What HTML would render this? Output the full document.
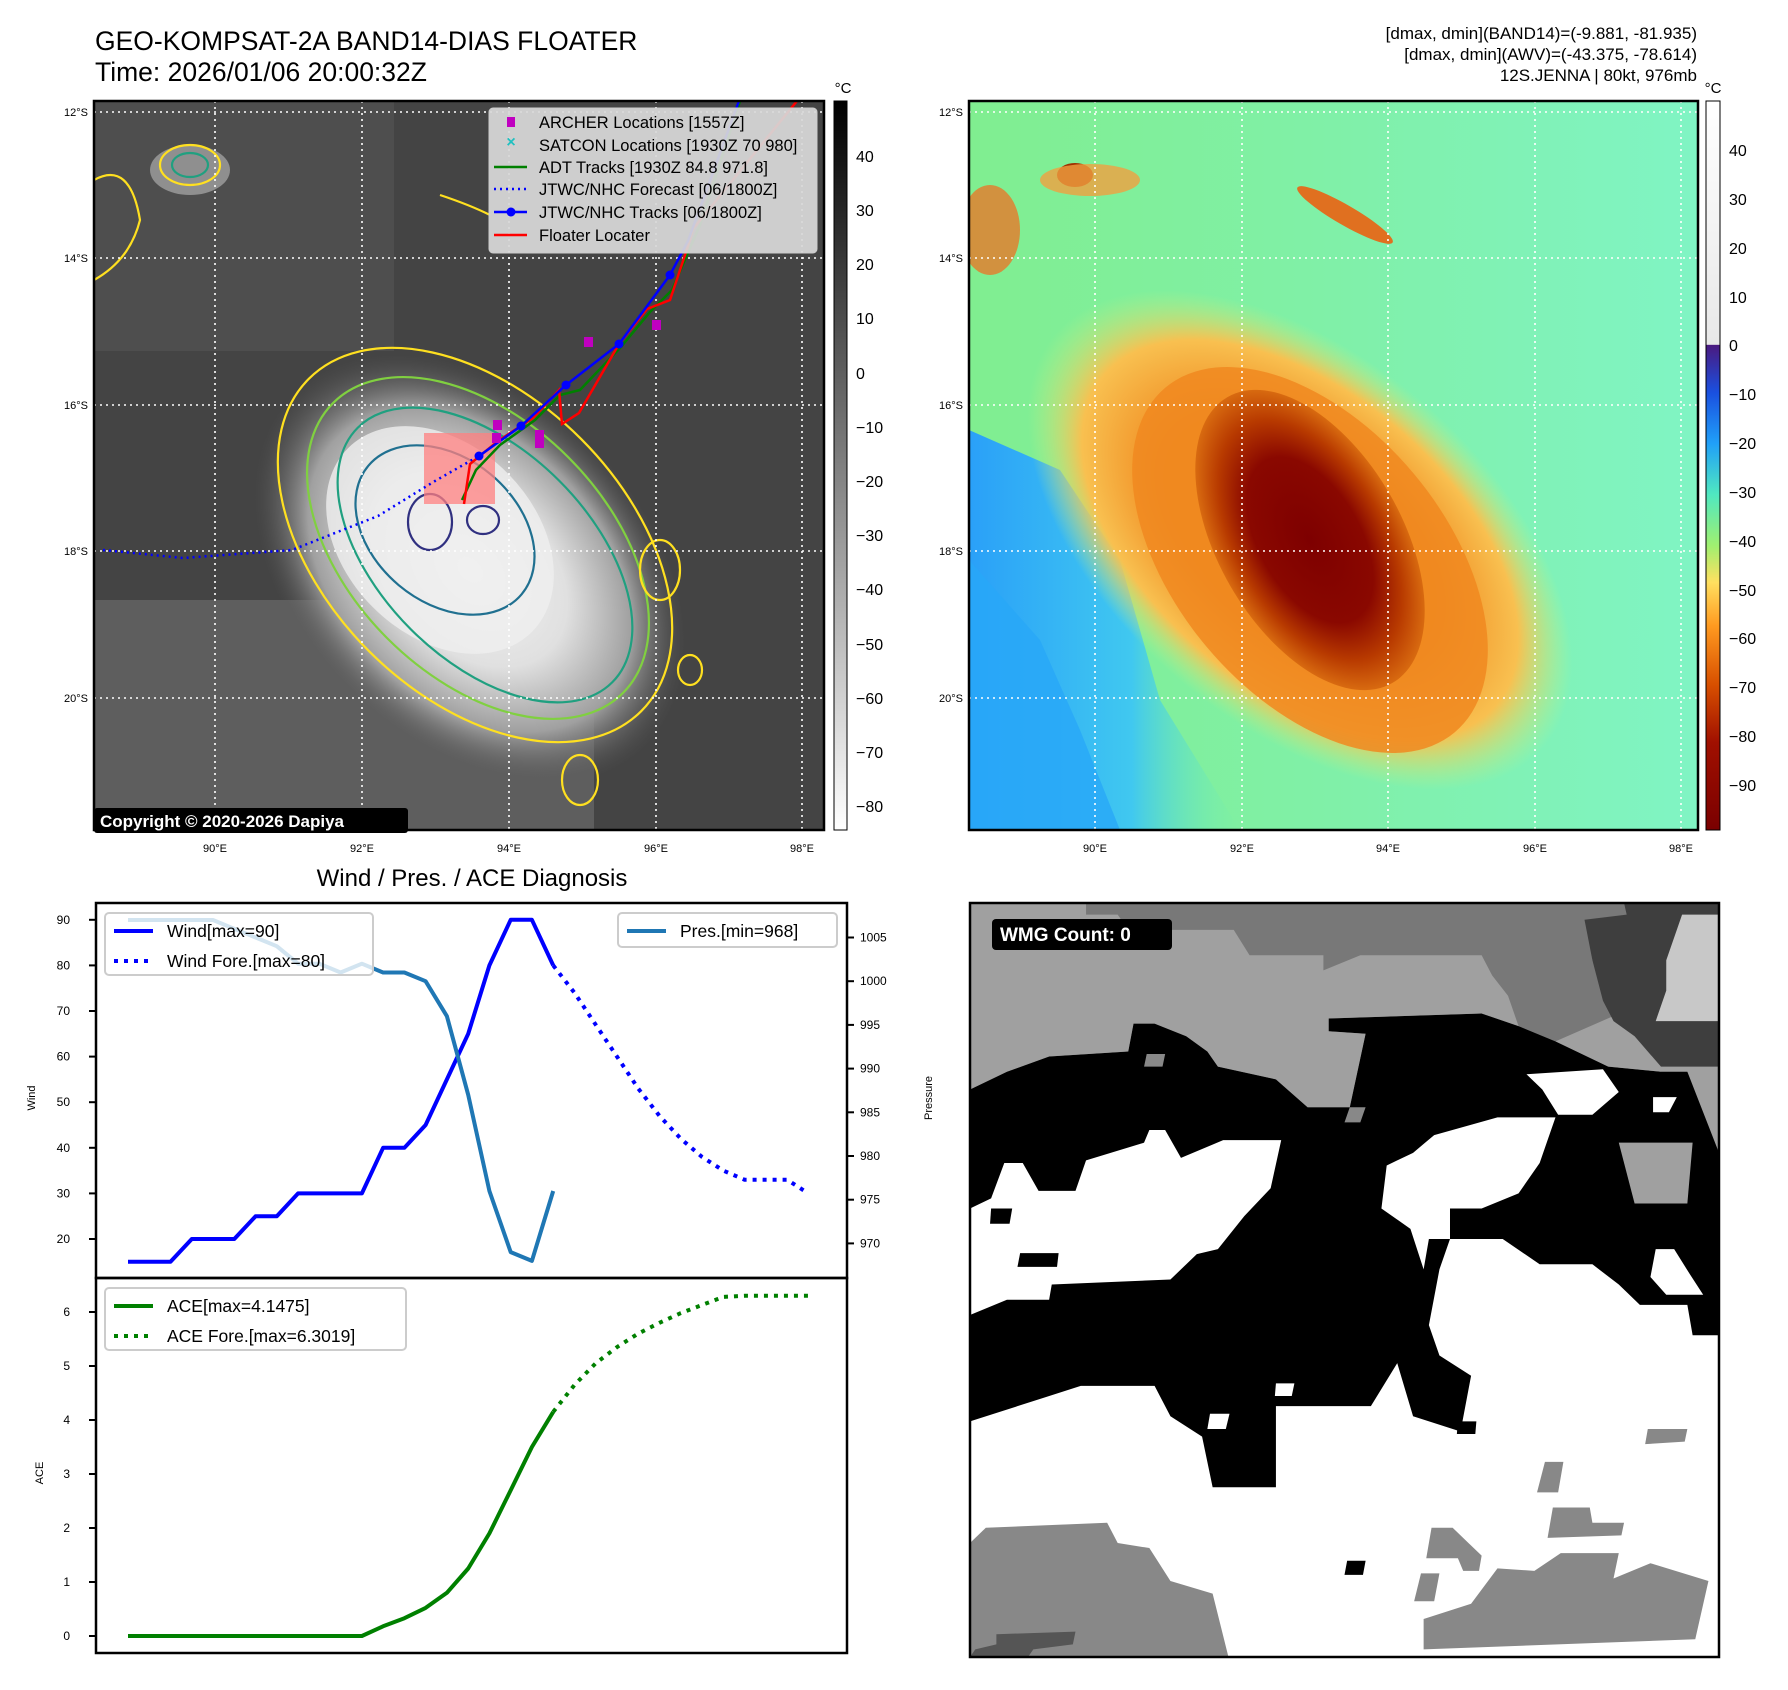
<!DOCTYPE html>
<html><head><meta charset="utf-8"><style>
html,body{margin:0;padding:0;background:#fff;}
svg{display:block;font-family:"Liberation Sans","DejaVu Sans",sans-serif;}
</style></head><body>
<svg id="root" width="1788" height="1690" viewBox="0 0 1788 1690" xmlns="http://www.w3.org/2000/svg">
<defs>
  <radialGradient id="cloud" cx="0.5" cy="0.5" r="0.5">
    <stop offset="0" stop-color="#f4f4f4"/>
    <stop offset="0.45" stop-color="#e0e0e0"/>
    <stop offset="0.75" stop-color="#a0a0a0"/>
    <stop offset="1" stop-color="#555" stop-opacity="0"/>
  </radialGradient>
  <radialGradient id="core" cx="0.5" cy="0.5" r="0.5">
    <stop offset="0" stop-color="#7e0000"/>
    <stop offset="0.55" stop-color="#8a0800"/>
    <stop offset="0.8" stop-color="#b83a00"/>
    <stop offset="1" stop-color="#d86a10"/>
  </radialGradient>
  <radialGradient id="ring" cx="0.5" cy="0.5" r="0.5">
    <stop offset="0.5" stop-color="#f08a20"/>
    <stop offset="0.8" stop-color="#f8c050"/>
    <stop offset="1" stop-color="#c8f080" stop-opacity="0"/>
  </radialGradient>
  <linearGradient id="bg2" x1="0" y1="0" x2="1" y2="0">
    <stop offset="0" stop-color="#80ee90"/>
    <stop offset="0.5" stop-color="#80f0a8"/>
    <stop offset="1" stop-color="#80f4c4"/>
  </linearGradient>
  <linearGradient id="bluezone" x1="0" y1="0" x2="1" y2="0">
    <stop offset="0" stop-color="#2aa0f8"/>
    <stop offset="0.6" stop-color="#40c8f0"/>
    <stop offset="1" stop-color="#70f0b0" stop-opacity="0"/>
  </linearGradient>
  <linearGradient id="cb1" x1="0" y1="0" x2="0" y2="1">
    <stop offset="0" stop-color="#000"/>
    <stop offset="1" stop-color="#fff"/>
  </linearGradient>
  <linearGradient id="cb2" x1="0" y1="0" x2="0" y2="1">
    <stop offset="0" stop-color="#ffffff"/>
    <stop offset="0.334" stop-color="#e8e8e8"/>
    <stop offset="0.335" stop-color="#4a1a80"/>
    <stop offset="0.40" stop-color="#1a50e0"/>
    <stop offset="0.47" stop-color="#20a0f8"/>
    <stop offset="0.54" stop-color="#50e8c0"/>
    <stop offset="0.61" stop-color="#a0f070"/>
    <stop offset="0.66" stop-color="#ffe060"/>
    <stop offset="0.72" stop-color="#ff9a20"/>
    <stop offset="0.80" stop-color="#d85000"/>
    <stop offset="0.88" stop-color="#a01000"/>
    <stop offset="1" stop-color="#7a0000"/>
  </linearGradient>
  <clipPath id="clip1"><rect x="94" y="101" width="730" height="729"/></clipPath>
  <clipPath id="clip2"><rect x="969" y="101" width="729" height="729"/></clipPath>
</defs>

<!-- Titles -->
<text x="95" y="50" font-size="26.5" fill="#000">GEO-KOMPSAT-2A BAND14-DIAS FLOATER</text>
<text x="95" y="81" font-size="26.5" fill="#000">Time: 2026/01/06 20:00:32Z</text>
<text x="1697" y="39" font-size="17" text-anchor="end">[dmax, dmin](BAND14)=(-9.881, -81.935)</text>
<text x="1697" y="60" font-size="17" text-anchor="end">[dmax, dmin](AWV)=(-43.375, -78.614)</text>
<text x="1697" y="81" font-size="17" text-anchor="end">12S.JENNA | 80kt, 976mb</text>

<!-- MAP 1 -->
<g clip-path="url(#clip1)">
  <rect x="94" y="101" width="730" height="729" fill="#444"/>
  <rect x="94" y="101" width="300" height="250" fill="#555" opacity="0.6"/>
  <rect x="94" y="600" width="500" height="230" fill="#6a6a6a" opacity="0.7"/>
  <ellipse cx="470" cy="570" rx="250" ry="175" transform="rotate(45 470 570)" fill="url(#cloud)"/>
  <ellipse cx="440" cy="540" rx="130" ry="95" transform="rotate(45 440 540)" fill="#efefef" opacity="0.8"/>
  <ellipse cx="190" cy="170" rx="40" ry="25" fill="#bbb" opacity="0.6"/>
  <g fill="none" stroke-width="2.2">
    <ellipse cx="475" cy="545" rx="235" ry="150" transform="rotate(45 475 545)" stroke="#ffe020"/>
    <ellipse cx="478" cy="548" rx="205" ry="128" transform="rotate(45 478 548)" stroke="#80d040"/>
    <ellipse cx="485" cy="555" rx="180" ry="105" transform="rotate(45 485 555)" stroke="#20a080"/>
    <ellipse cx="445" cy="530" rx="100" ry="72" transform="rotate(40 445 530)" stroke="#207090"/>
    <ellipse cx="430" cy="522" rx="22" ry="28" stroke="#303080"/>
    <ellipse cx="483" cy="520" rx="16" ry="14" stroke="#303080"/>
    <ellipse cx="190" cy="165" rx="30" ry="20" stroke="#ffe020"/>
    <ellipse cx="190" cy="165" rx="18" ry="12" stroke="#20a080"/>
    <path d="M94 180 Q130 160 140 220 Q130 260 94 280" stroke="#ffe020"/>
    <path d="M440 195 Q470 205 490 215" stroke="#ffe020"/>
    <ellipse cx="660" cy="570" rx="20" ry="30" stroke="#ffe020"/>
    <ellipse cx="690" cy="670" rx="12" ry="15" stroke="#ffe020"/>
    <ellipse cx="580" cy="780" rx="18" ry="25" stroke="#ffe020"/>
  </g>
  <g stroke="#fff" stroke-width="1.6" stroke-dasharray="2 4">
    <line x1="94" y1="112" x2="824" y2="112"/><line x1="94" y1="258" x2="824" y2="258"/>
    <line x1="94" y1="405" x2="824" y2="405"/><line x1="94" y1="551" x2="824" y2="551"/>
    <line x1="94" y1="698" x2="824" y2="698"/>
    <line x1="215" y1="101" x2="215" y2="830"/><line x1="362" y1="101" x2="362" y2="830"/>
    <line x1="509" y1="101" x2="509" y2="830"/><line x1="656" y1="101" x2="656" y2="830"/>
    <line x1="802" y1="101" x2="802" y2="830"/>
  </g>
  <rect x="424" y="433" width="71" height="71" fill="#ff8080" opacity="0.75"/>
  <polyline points="103,550 183,558 292,550 378,516 435,481 479,456" fill="none" stroke="#0000ff" stroke-width="2.5" stroke-dasharray="2 4"/>
  <polyline points="462,500 476,470 500,445 535,420 560,395 580,390 620,348 650,312 672,290 690,248 700,225 740,101" fill="none" stroke="#008000" stroke-width="2.5"/>
  <polyline points="464,504 470,464 498,441 533,418 559,390 562,424 579,413 619,344 647,309 670,300 688,246 693,229 797,101" fill="none" stroke="#ff0000" stroke-width="2.5"/>
  <polyline points="479,456 521,426 566,385 619,344 670,275 688,241 739,101" fill="none" stroke="#0000ff" stroke-width="2.5"/>
  <g fill="#0000ff"><circle cx="479" cy="456" r="4.5"/><circle cx="521" cy="426" r="4.5"/><circle cx="566" cy="385" r="4.5"/><circle cx="619" cy="344" r="4.5"/><circle cx="670" cy="275" r="4.5"/></g>
  <g fill="#c000c0">
    <rect x="493" y="420" width="9" height="10"/><rect x="492" y="433" width="9" height="10"/><rect x="535" y="430" width="9" height="18"/><rect x="584" y="337" width="9" height="10"/><rect x="652" y="320" width="9" height="10"/>
  </g>
</g>
<rect x="94" y="101" width="730" height="729" fill="none" stroke="#000" stroke-width="2.5"/>
<rect x="94" y="808" width="314" height="25" rx="3" fill="#000"/>
<text x="100" y="827" font-size="17" font-weight="bold" fill="#fff">Copyright © 2020-2026 Dapiya</text>

<!-- map1 legend -->
<g>
  <rect x="489" y="108" width="328" height="145" rx="4" fill="#d8d8d8" fill-opacity="0.93" stroke="#ccc"/>
  <rect x="507" y="117" width="8" height="10" fill="#c000c0"/>
  <text x="511" y="147" font-size="16" font-weight="bold" fill="#20c0c0" text-anchor="middle">×</text>
  <line x1="494" y1="167" x2="527" y2="167" stroke="#008000" stroke-width="2.5"/>
  <line x1="494" y1="189" x2="527" y2="189" stroke="#0000ff" stroke-width="2.5" stroke-dasharray="2 4"/>
  <line x1="494" y1="212" x2="527" y2="212" stroke="#0000ff" stroke-width="2.5"/><circle cx="511" cy="212" r="4.5" fill="#0000ff"/>
  <line x1="494" y1="235" x2="527" y2="235" stroke="#ff0000" stroke-width="2.5"/>
  <g font-size="16.5" fill="#000">
    <text x="539" y="128">ARCHER Locations [1557Z]</text>
    <text x="539" y="151">SATCON Locations [1930Z 70 980]</text>
    <text x="539" y="173">ADT Tracks [1930Z 84.8 971.8]</text>
    <text x="539" y="195">JTWC/NHC Forecast [06/1800Z]</text>
    <text x="539" y="218">JTWC/NHC Tracks [06/1800Z]</text>
    <text x="539" y="241">Floater Locater</text>
  </g>
</g>

<g font-size="11" fill="#000" text-anchor="end">
  <text x="88" y="116">12°S</text><text x="88" y="262">14°S</text><text x="88" y="409">16°S</text><text x="88" y="555">18°S</text><text x="88" y="702">20°S</text>
</g>
<g font-size="11" fill="#000" text-anchor="middle">
  <text x="215" y="852">90°E</text><text x="362" y="852">92°E</text><text x="509" y="852">94°E</text><text x="656" y="852">96°E</text><text x="802" y="852">98°E</text>
</g>
<g font-size="11" fill="#000" text-anchor="end">
  <text x="963" y="116">12°S</text><text x="963" y="262">14°S</text><text x="963" y="409">16°S</text><text x="963" y="555">18°S</text><text x="963" y="702">20°S</text>
</g>
<g font-size="11" fill="#000" text-anchor="middle">
  <text x="1095" y="852">90°E</text><text x="1242" y="852">92°E</text><text x="1388" y="852">94°E</text><text x="1535" y="852">96°E</text><text x="1681" y="852">98°E</text>
</g>

<!-- colorbar 1 -->
<rect x="834" y="101" width="13" height="729" fill="url(#cb1)" stroke="#000" stroke-width="1"/>
<text x="843" y="93" font-size="15" text-anchor="middle">°C</text>
<g font-size="16">
  <text x="856" y="162">40</text><text x="856" y="216">30</text><text x="856" y="270">20</text><text x="856" y="324">10</text><text x="856" y="379">0</text><text x="856" y="433">−10</text><text x="856" y="487">−20</text><text x="856" y="541">−30</text><text x="856" y="595">−40</text><text x="856" y="650">−50</text><text x="856" y="704">−60</text><text x="856" y="758">−70</text><text x="856" y="812">−80</text>
</g>

<!-- MAP 2 -->
<g clip-path="url(#clip2)">
  <rect x="969" y="101" width="729" height="729" fill="url(#bg2)"/>
  <polygon points="969,430 1060,470 1120,560 1160,700 1240,830 969,830" fill="url(#bluezone)"/>
  <polygon points="969,560 1040,640 1080,730 1120,830 969,830" fill="#28a8f8" opacity="0.8"/>
  <ellipse cx="1300" cy="540" rx="320" ry="185" transform="rotate(40 1300 540)" fill="url(#ring)"/>
  <ellipse cx="1310" cy="560" rx="225" ry="135" transform="rotate(50 1310 560)" fill="#f08820" opacity="0.85"/>
  <ellipse cx="1310" cy="540" rx="165" ry="92" transform="rotate(60 1310 540)" fill="url(#core)"/>
  <ellipse cx="1075" cy="175" rx="18" ry="12" fill="#a03000"/>
  <ellipse cx="1090" cy="180" rx="50" ry="16" fill="#f0a040" opacity="0.8"/>
  <ellipse cx="990" cy="230" rx="30" ry="45" fill="#e08030" opacity="0.85"/>
  <ellipse cx="1345" cy="215" rx="55" ry="10" transform="rotate(30 1345 215)" fill="#e07020"/>
  <g stroke="#fff" stroke-width="1.6" stroke-dasharray="2 4">
    <line x1="969" y1="112" x2="1698" y2="112"/><line x1="969" y1="258" x2="1698" y2="258"/>
    <line x1="969" y1="405" x2="1698" y2="405"/><line x1="969" y1="551" x2="1698" y2="551"/>
    <line x1="969" y1="698" x2="1698" y2="698"/>
    <line x1="1095" y1="101" x2="1095" y2="830"/><line x1="1242" y1="101" x2="1242" y2="830"/>
    <line x1="1388" y1="101" x2="1388" y2="830"/><line x1="1535" y1="101" x2="1535" y2="830"/>
    <line x1="1681" y1="101" x2="1681" y2="830"/>
  </g>
</g>
<rect x="969" y="101" width="729" height="729" fill="none" stroke="#000" stroke-width="2.5"/>
<rect x="1706" y="101" width="14" height="729" fill="url(#cb2)" stroke="#000" stroke-width="1"/>
<text x="1713" y="93" font-size="15" text-anchor="middle">°C</text>
<g font-size="16">
  <text x="1729" y="156">40</text><text x="1729" y="205">30</text><text x="1729" y="254">20</text><text x="1729" y="303">10</text><text x="1729" y="351">0</text><text x="1729" y="400">−10</text><text x="1729" y="449">−20</text><text x="1729" y="498">−30</text><text x="1729" y="547">−40</text><text x="1729" y="596">−50</text><text x="1729" y="644">−60</text><text x="1729" y="693">−70</text><text x="1729" y="742">−80</text><text x="1729" y="791">−90</text>
</g>

<!-- WMG panel -->
<svg x="970" y="903" width="749" height="754" viewBox="20 7 1420 1488" preserveAspectRatio="none">
  <rect x="20" y="7" width="1420" height="1488" fill="#fff"/>
  <polygon fill="#a0a0a0" points="20,7 1440,7 1440,600 1280,600 1250,480 1330,340 1230,330 1130,280 1060,250 990,225 700,235 700,260 770,265 740,410 660,410 600,355 490,330 470,300 430,270 370,245 330,245 320,300 170,310 90,340 20,375"/>
  <polygon fill="#787878" points="240,7 1270,7 1270,30 1190,40 1200,120 1240,230 1130,280 1060,250 1040,190 1010,150 990,110 760,110 690,140 690,110 550,110 520,60 320,60 300,30 240,30"/>
  <polygon fill="#3e3e3e" points="1260,7 1440,7 1440,330 1330,330 1280,270 1240,240 1220,200 1200,120 1185,40 1265,30"/>
  <polygon fill="#c8c8c8" points="1370,30 1440,30 1440,240 1320,240 1340,180 1340,120 1360,60"/>
  <polygon fill="#000" points="20,375 90,340 170,310 320,300 330,245 370,245 430,270 470,300 490,330 600,355 660,410 740,410 770,265 700,260 700,235 990,225 1060,250 1130,280 1230,330 1330,340 1380,340 1440,500 1440,860 1390,860 1380,800 1290,800 1250,760 1200,720 1100,720 1030,670 930,670 910,730 890,840 910,900 970,940 950,1050 860,1020 830,915 780,1000 660,1000 600,1000 600,1160 480,1160 460,1060 400,1020 370,960 230,960 110,1000 20,1030"/>
  <polygon fill="#fff" points="20,610 60,590 85,520 120,520 150,575 220,575 240,515 350,480 360,455 390,455 420,510 500,475 610,475 590,570 540,625 490,690 450,700 400,750 175,760 170,790 90,790 20,820"/>
  <polygon fill="#000" points="60,610 100,610 95,640 58,640"/>
  <polygon fill="#000" points="115,698 188,698 185,725 110,725"/>
  <polygon fill="#fff" points="800,610 810,525 860,500 900,465 1020,430 1130,430 1100,520 1060,580 990,610 930,610 930,670 890,670 880,730 855,650"/>
  <polygon fill="#fff" points="1075,345 1220,335 1250,380 1200,425 1135,425 1105,375"/>
  <polygon fill="#fff" points="1315,390 1360,390 1345,420 1315,420"/>
  <polygon fill="#fff" points="1320,690 1355,690 1385,740 1410,780 1340,780 1310,745"/>
  <polygon fill="#a0a0a0" points="1250,480 1390,480 1380,600 1280,600"/>
  <polygon fill="#fff" points="600,955 635,955 630,980 598,980"/>
  <polygon fill="#fff" points="475,1015 512,1015 505,1045 470,1045"/>
  <polygon fill="#888" points="20,1270 50,1240 280,1230 300,1270 360,1280 400,1345 480,1370 510,1495 20,1495"/>
  <polygon fill="#555" points="70,1450 220,1445 215,1470 140,1480 130,1495 20,1495 30,1480 70,1470"/>
  <polygon fill="#888" points="880,1420 970,1390 1020,1320 1090,1325 1140,1290 1250,1290 1240,1340 1310,1310 1420,1345 1395,1460 880,1480"/>
  <polygon fill="#888" points="1305,1045 1380,1045 1375,1070 1300,1075"/>
  <polygon fill="#888" points="1110,1110 1145,1110 1135,1170 1095,1170"/>
  <polygon fill="#888" points="1125,1200 1195,1200 1200,1230 1260,1230 1255,1255 1115,1260"/>
  <polygon fill="#888" points="895,1240 935,1240 965,1270 990,1295 985,1325 955,1325 945,1300 885,1300"/>
  <polygon fill="#888" points="875,1330 910,1330 900,1385 862,1385"/>
  <polygon fill="#000" points="735,1305 770,1305 765,1333 730,1333"/>
  <polygon fill="#000" points="945,1030 980,1030 978,1055 943,1055"/>
  <polygon fill="#888" points="355,305 390,305 385,330 350,330"/>
  <polygon fill="#888" points="740,410 770,410 760,440 730,440"/>
</svg>
<rect x="970" y="903" width="749" height="754" fill="none" stroke="#000" stroke-width="2.5"/>
<rect x="992" y="919" width="180" height="31" rx="4" fill="#000"/>
<text x="1000" y="941" font-size="19" font-weight="bold" fill="#fff">WMG Count: 0</text>

<!-- Chart -->
<text x="472" y="886" font-size="24" text-anchor="middle">Wind / Pres. / ACE Diagnosis</text>
<g id="chart"></g>
</svg>

<script>
const windObs=[15,15,15,20,20,20,25,25,30,30,30,30,40,40,45,55,65,80,90,90,80];
const windFcst=[80,74,67,60,53,47,42,38,35,33,33,33,30];
const presObs=[1007,1007,1007,1007,1007,1006,1005,1004,1002,1002,1001,1002,1001,1001,1000,996,987,976,969,968,976];
const aceObs=[0,0,0,0,0,0,0,0,0,0,0,0,0.18,0.33,0.52,0.8,1.25,1.9,2.7,3.5,4.15];
const aceFcst=[4.15,4.65,5.05,5.35,5.6,5.8,5.98,6.13,6.28,6.3,6.3,6.3,6.3];
const windTicks=[20,30,40,50,60,70,80,90];
const presTicks=[970,975,980,985,990,995,1000,1005];
const aceTicks=[0,1,2,3,4,5,6];

const NS='http://www.w3.org/2000/svg';
const chart=document.getElementById('chart');
function xOf(i){return 128+i*21.26;}
function yWind(v){return 1239-(v-20)*4.56;}
function yPres(p){return 937.5+(1005-p)*8.74;}
function yAce(v){return 1636-v*54;}
function mk(tag,attrs,parent){const e=document.createElementNS(NS,tag);for(const k in attrs)e.setAttribute(k,attrs[k]);(parent||chart).appendChild(e);return e;}
function pts(arr,off,yf){return arr.map((v,i)=>xOf(i+off).toFixed(1)+','+yf(v).toFixed(1)).join(' ');}

let f1=mk('rect',{x:96,y:903,width:751,height:375,fill:'none',stroke:'#000','stroke-width':2.5});


let f2=mk('rect',{x:96,y:1278,width:751,height:375,fill:'none',stroke:'#000','stroke-width':2.5});



function tickL(v,y,lab){mk('line',{x1:89,y1:y,x2:96,y2:y,stroke:'#000','stroke-width':2});const t=mk('text',{x:70,y:y+4,'font-size':12,'text-anchor':'end'});t.textContent=lab;

}
windTicks.forEach(v=>tickL(v,yWind(v),v));
aceTicks.forEach(v=>tickL(v,yAce(v),v));
presTicks.forEach(v=>{const y=yPres(v);mk('line',{x1:847,y1:y,x2:854,y2:y,stroke:'#000','stroke-width':2});const t=mk('text',{x:860,y:y+4,'font-size':12});t.textContent=v;

});

function axLabel(txt,x,y,name){const t=mk('text',{x:x,y:y,'font-size':11,'text-anchor':'middle',transform:'rotate(-90 '+x+' '+y+')'});t.textContent=txt;

}
axLabel('Wind',35,1098,'wind-axis-title');
axLabel('Pressure',932,1098,'pressure-axis-title');
axLabel('ACE',43,1473,'ace-axis-title');

let s;
s=mk('polyline',{points:pts(windObs,0,yWind),fill:'none',stroke:'#0000ff','stroke-width':4,'stroke-linejoin':'round'});


s=mk('polyline',{points:pts(windFcst,20,yWind),fill:'none',stroke:'#0000ff','stroke-width':4,'stroke-dasharray':'4 6'});


s=mk('polyline',{points:pts(presObs,0,yPres),fill:'none',stroke:'#1f77b4','stroke-width':4,'stroke-linejoin':'round'});


s=mk('polyline',{points:pts(aceObs,0,yAce),fill:'none',stroke:'#008000','stroke-width':4,'stroke-linejoin':'round'});


s=mk('polyline',{points:pts(aceFcst,20,yAce),fill:'none',stroke:'#008000','stroke-width':4,'stroke-dasharray':'4 6'});



function legend(x,y,w,h,items,name){const g=mk('g',{});


mk('rect',{x:x,y:y,width:w,height:h,rx:4,fill:'#fff','fill-opacity':0.8,stroke:'#ccc','stroke-width':2},g);
items.forEach((it,k)=>{const cy=y+18+k*30;const l=mk('line',{x1:x+9,y1:cy,x2:x+48,y2:cy,stroke:it.c,'stroke-width':4},g);if(it.d)l.setAttribute('stroke-dasharray','4 6');const t=mk('text',{x:x+62,y:cy+6,'font-size':17.5},g);t.textContent=it.t;});}
legend(105,913,268,62,[{c:'#0000ff',t:'Wind[max=90]'},{c:'#0000ff',t:'Wind Fore.[max=80]',d:1}],'wind-legend');
legend(618,913,219,34,[{c:'#1f77b4',t:'Pres.[min=968]'}],'pressure-legend');
legend(105,1288,301,62,[{c:'#008000',t:'ACE[max=4.1475]'},{c:'#008000',t:'ACE Fore.[max=6.3019]',d:1}],'ace-legend');
</script>
</body></html>
